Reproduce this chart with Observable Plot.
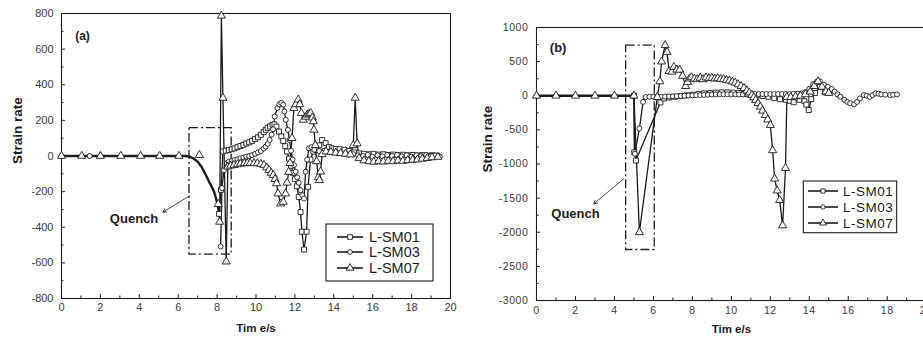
<!DOCTYPE html>
<html><head><meta charset="utf-8">
<script src="https://cdn.jsdelivr.net/npm/d3@7"></script>
<script src="https://cdn.jsdelivr.net/npm/@observablehq/plot@0.6"></script>
<style>
html,body{margin:0;padding:0;background:#fff;overflow:hidden;}
#wrap{position:relative;width:923px;height:338px;overflow:hidden;background:#fff;}
#wrap svg{position:absolute;top:0;}
</style></head><body><div id="wrap"></div>
<script>
// ---------------- Panel (a) data ----------------
const aXTicks = [0,2,4,6,8,10,12,14,16,18,20];
const aXMinor = [1,3,5,7,9,11,13,15,17,19];
const aYTicks = [-800,-600,-400,-200,0,200,400,600,800];
const aYMinor = [-700,-500,-300,-100,100,300,500,700];
const aCommon = [[0,0],[6.4,0],[6.6,-4],[6.8,-15],[7.0,-32],[7.2,-60],[7.33,-88],[7.46,-115],[7.59,-145],[7.72,-172],[7.84,-200],[7.95,-240],[8.01,-267],[8.1,-320]];
const a07Early = [[0,0],[1.04,0],[2,0],[3.05,0],[4.07,0],[5.05,0],[6.04,0],[7.09,5]];
const a03Early = [[0,0],[1.45,0]];
const aSM01 = [[8.1,-325],[8.2,-190],[8.3,25],[8.45,30],[8.6,34],[8.75,38],[8.9,43],[9.05,50],[9.2,56],[9.35,62],[9.5,70],[9.65,77],[9.8,85],[9.95,95],[10.1,105],[10.25,119],[10.4,135],[10.5,147],[10.6,158],[10.72,166],[10.85,175],[10.95,178],[11.05,165],[11.18,137],[11.3,110],[11.4,85],[11.5,55],[11.6,25],[11.7,-15],[11.8,-55],[11.9,-95],[12.0,-130],[12.1,-170],[12.2,-230],[12.29,-315],[12.36,-425],[12.47,-525],[12.6,-425],[12.68,-173],[12.8,-20],[12.95,25],[13.1,34],[13.25,60],[13.4,90],[13.58,72],[13.75,50],[13.9,43],[14.1,40],[14.3,38],[14.55,35],[14.8,28],[15.05,20],[15.3,15],[15.55,12],[15.8,10],[16.05,12],[16.3,8],[16.55,10],[16.8,6],[17.05,8],[17.3,5],[17.55,7],[17.8,4],[18.05,6],[18.3,3],[18.55,5],[18.8,2],[19.05,4],[19.3,2]];
const aSM03 = [[8.18,-508],[8.25,-180],[8.35,-80],[8.5,-40],[8.6,-32],[8.75,-28],[8.9,-23],[9.05,-18],[9.2,-13],[9.35,-9],[9.5,-4],[9.65,0],[9.8,5],[9.95,12],[10.1,20],[10.25,28],[10.4,42],[10.5,53],[10.6,68],[10.7,90],[10.8,120],[10.88,150],[10.96,222],[11.1,269],[11.2,290],[11.3,298],[11.4,288],[11.46,250],[11.53,203],[11.64,147],[11.72,90],[11.8,30],[11.88,-20],[11.95,-51],[12.04,-88],[12.12,-120],[12.2,-150],[12.29,-192],[12.38,-220],[12.47,-239],[12.55,-88],[12.63,-20],[12.72,43],[12.85,50],[13.0,35],[13.25,28],[13.5,30],[13.75,24],[14.0,20],[14.25,16],[14.5,12],[14.75,8],[15.0,10],[15.25,4],[15.5,0],[15.75,6],[16.0,-4],[16.25,4],[16.5,-2],[16.75,6],[17.0,0],[17.25,6],[17.5,-2],[17.75,4],[18.0,-4],[18.25,4],[18.5,0],[18.75,6],[19.0,0],[19.2,3],[19.45,-4]];
const aSM07 = [[8.06,-270],[8.13,-370],[8.22,787],[8.3,326],[8.47,-593],[8.55,-60],[8.7,-55],[8.87,-51],[9.05,-47],[9.2,-44],[9.4,-41],[9.55,-41],[9.7,-40],[9.9,-41],[10.07,-41],[10.25,-45],[10.41,-51],[10.55,-65],[10.67,-79],[10.78,-95],[10.89,-107],[10.98,-130],[11.06,-154],[11.13,-211],[11.27,-267],[11.4,-258],[11.52,-211],[11.6,-150],[11.68,-90],[11.75,-40],[11.85,100],[11.95,269],[12.05,290],[12.17,316],[12.25,290],[12.33,241],[12.43,203],[12.55,220],[12.64,232],[12.73,236],[12.81,241],[12.9,215],[12.95,194],[12.98,147],[13.05,60],[13.12,-30],[13.2,-120],[13.26,-136],[13.32,-88],[13.4,10],[13.6,25],[13.85,22],[14.1,18],[14.35,15],[14.6,12],[14.85,8],[15.0,60],[15.1,326],[15.2,70],[15.3,-13],[15.55,-25],[15.8,-30],[16.05,-33],[16.3,-30],[16.55,-32],[16.8,-28],[17.05,-30],[17.3,-26],[17.55,-28],[17.8,-24],[18.05,-22],[18.3,-20],[18.55,-16],[18.8,-12],[19.05,-8],[19.35,-5]];
const aBox = [{x1:6.58, x2:8.75, y1:-554, y2:156}];
const aArrow = [{x1:6.58, y1:-224, x2:5.22, y2:-315}];
const aNotes = [{t:3.73, v:-352, text:"Quench", size:13}, {t:1.08, v:674, text:"(a)", size:12}];

// ---------------- Panel (b) data ----------------
const bXTicks = [0,2,4,6,8,10,12,14,16,18,20];
const bXMinor = [1,3,5,7,9,11,13,15,17,19];
const bYTicks = [-3000,-2500,-2000,-1500,-1000,-500,0,500,1000];
const bYMinor = [-2750,-2250,-1750,-1250,-750,-250,250,750];
const bCommon = [[0,0],[5.0,0]];
const b07Early = [[0,0],[1,0],[2,0],[3,0],[4,0]];
const b03Early = [[0,0]];
const bSM01 = [[5.0,0],[5.02,-830],[5.1,-950],[6.36,-98],[6.55,-40],[6.8,-25],[7.1,-15],[7.4,-5],[7.7,5],[8.0,15],[8.3,25],[8.6,35],[8.9,40],[9.2,45],[9.5,50],[9.8,50],[10.1,45],[10.4,40],[10.7,30],[11.0,15],[11.3,5],[11.6,-5],[11.9,-15],[12.2,-35],[12.5,-50],[12.8,-60],[13.0,-75],[13.2,-95],[13.5,-60],[13.75,-80],[13.85,-130],[13.97,-210],[14.1,-50],[14.3,40],[14.55,130],[14.8,50],[15.0,45]];
const bSM03 = [[5.0,0],[5.05,-850],[5.28,-480],[5.47,-90],[5.6,-20],[5.8,-15],[6.0,-12],[6.2,-10],[6.4,-15],[6.6,-12],[6.8,-10],[7.0,-8],[7.2,-5],[7.4,-3],[7.6,0],[7.8,3],[8.0,5],[8.2,8],[8.4,10],[8.6,12],[8.8,15],[9.0,18],[9.2,20],[9.4,22],[9.6,22],[9.8,22],[10.0,20],[10.2,20],[10.4,18],[10.6,18],[10.8,20],[11.0,22],[11.2,25],[11.4,25],[11.6,25],[11.8,25],[12.0,25],[12.2,25],[12.4,25],[12.6,25],[12.8,25],[13.0,25],[13.2,28],[13.4,30],[13.6,35],[13.8,55],[14.0,100],[14.2,170],[14.4,210],[14.55,210],[14.75,160],[14.95,130],[15.15,100],[15.3,60],[15.45,20],[15.6,-15],[15.8,-60],[15.95,-90],[16.1,-110],[16.3,-125],[16.45,-90],[16.6,-40],[16.8,10],[16.95,0],[17.1,-15],[17.25,10],[17.4,35],[17.55,30],[17.7,20],[17.9,15],[18.15,10],[18.3,15],[18.5,20]];
const bSM07 = [[5.0,0],[5.28,-2000],[6.2,-20],[6.33,210],[6.42,500],[6.6,740],[6.7,640],[6.8,360],[6.95,350],[7.05,420],[7.2,380],[7.35,380],[7.5,290],[7.65,140],[7.75,200],[7.85,250],[7.95,270],[8.1,250],[8.25,240],[8.4,260],[8.55,240],[8.7,265],[8.85,255],[9.0,260],[9.15,250],[9.3,255],[9.45,245],[9.6,240],[9.75,230],[9.9,220],[10.05,205],[10.2,190],[10.35,165],[10.5,140],[10.65,110],[10.8,75],[10.92,45],[11.05,10],[11.15,-25],[11.25,-64],[11.37,-110],[11.49,-162],[11.6,-220],[11.74,-284],[11.87,-350],[12.0,-430],[12.12,-800],[12.22,-1215],[12.35,-1390],[12.48,-1530],[12.63,-1900],[12.78,-1060],[12.85,-20],[13.05,-20],[13.3,-10],[13.55,0],[13.8,20],[14.05,60],[14.25,140],[14.45,210],[14.65,130],[14.85,60],[15.0,40]];
const bBox = [{x1:4.6, x2:6.07, y1:-2260, y2:735}];
const bArrow = [{x1:4.48, y1:-1215, x2:2.94, y2:-1583}];
const bNotes = [{t:2.0, v:-1730, text:"Quench", size:13}, {t:1.11, v:705, text:"(b)", size:13}];

const seriesNames = ["L-SM01","L-SM03","L-SM07"];
const seriesSymbols = ["square","circle","triangle"];
const seriesR = [2.8, 2.5, 3.0];

// ---------------- drawing ----------------
const INK = "#1c1c1c";
const TICKINK = "#3a3a3a";
const FONT = "'Liberation Sans', Arial, sans-serif";
const pts = a => a.map(([t, v]) => ({t, v}));

function panel(c) {
  const innerW = c.width - c.ml - c.mr, innerH = c.height - c.mt - c.mb;
  const series = [c.s01, c.s03, c.s07];
  const marks = [
    Plot.frame({stroke: INK, strokeWidth: 1.1}),
    Plot.tickX(c.xTicks, {x: d => d, insetTop: innerH - 4, stroke: INK}),
    Plot.tickX(c.xMinor, {x: d => d, insetTop: innerH - 2.5, stroke: INK}),
    Plot.tickY(c.yTicks, {y: d => d, insetRight: innerW - 4, stroke: INK}),
    Plot.tickY(c.yMinor, {y: d => d, insetRight: innerW - 2.5, stroke: INK}),
    Plot.axisX(c.xTicks, {tickSize: 0, tickPadding: c.xPad, tickFormat: d => String(d), label: null, fill: TICKINK}),
    Plot.axisY(c.yTicks, {tickSize: 0, tickPadding: 8, tickFormat: d => String(d), label: null, fill: TICKINK}),
    Plot.line(pts(c.common), {x: "t", y: "v", stroke: INK, strokeWidth: 2.4}),
    Plot.rect(c.box, {x1: "x1", x2: "x2", y1: "y1", y2: "y2", fill: "none", stroke: INK, strokeWidth: 1.3, strokeDasharray: "9,3,2,3"}),
    Plot.arrow(c.arrow, {x1: "x1", y1: "y1", x2: "x2", y2: "y2", stroke: INK, strokeWidth: 0.8, headLength: 7}),
  ];
  series.forEach(s => marks.push(Plot.line(pts(s), {x: "t", y: "v", stroke: INK, strokeWidth: 1.3})));
  marks.push(Plot.dot(pts(c.early03), {x: "t", y: "v", symbol: "circle", r: seriesR[1], fill: "white", stroke: INK, strokeWidth: 0.9}));
  marks.push(Plot.dot(pts(c.early07), {x: "t", y: "v", symbol: "triangle", r: seriesR[2], fill: "white", stroke: INK, strokeWidth: 0.9}));
  series.forEach((s, i) => marks.push(Plot.dot(pts(s), {x: "t", y: "v", symbol: seriesSymbols[i], r: seriesR[i], fill: "white", stroke: INK, strokeWidth: 0.9})));
  c.notes.forEach(n => marks.push(Plot.text([n], {x: "t", y: "v", text: "text", fontSize: n.size, fontWeight: "bold", fill: INK})));
  marks.push(Plot.text(["Strain rate"], {frameAnchor: "left", dx: -c.yLabOff, dy: c.yLabDy, rotate: -90, fontSize: 13.5, fontWeight: "bold", fill: INK}));
  marks.push(Plot.text(["Tim e/s"], {frameAnchor: "bottom", dy: c.xLabDy, fontSize: 11.5, fontWeight: "bold", fill: INK}));

  const svg = Plot.plot({
    width: c.width, height: c.height,
    marginLeft: c.ml, marginRight: c.mr, marginTop: c.mt, marginBottom: c.mb,
    x: {domain: [0, 20]}, y: {domain: c.yDomain},
    style: {fontFamily: FONT, fontSize: c.tickFont + "px", background: "white", color: INK},
    marks
  });
  svg.style.left = c.left + "px";
  if (c.tickSpacing) d3.select(svg).selectAll("[aria-label$='tick label'] text").style("letter-spacing", c.tickSpacing);

  // legend
  const L = c.legend;
  const g = d3.select(svg).append("g").attr("font-family", FONT).attr("fill", INK).attr("text-anchor", "start");
  g.append("rect").attr("x", L.x).attr("y", L.y).attr("width", L.w).attr("height", L.h).attr("fill", "white").attr("stroke", INK).attr("stroke-width", 1.1);
  const symMap = {square: d3.symbolSquare, circle: d3.symbolCircle, triangle: d3.symbolTriangle};
  seriesNames.forEach((name, i) => {
    const yy = L.rows[i];
    g.append("line").attr("x1", L.lx1).attr("x2", L.lx2).attr("y1", yy).attr("y2", yy).attr("stroke", INK).attr("stroke-width", 1.6);
    const r = seriesR[i] * L.k;
    g.append("path").attr("d", d3.symbol(symMap[seriesSymbols[i]], Math.PI * r * r)()).attr("transform", `translate(${(L.lx1 + L.lx2) / 2},${yy})`).attr("fill", "white").attr("stroke", INK).attr("stroke-width", 0.9);
    g.append("text").attr("x", L.tx).attr("y", yy).attr("dy", "0.36em").attr("text-anchor", "start").attr("font-size", L.font).attr("letter-spacing", L.ls).text(name);
  });
  document.getElementById("wrap").appendChild(svg);
}

panel({
  left: 0, width: 460, height: 338, ml: 61, mr: 10, mt: 13, mb: 40, yDomain: [-800, 800],
  xTicks: aXTicks, xMinor: aXMinor, yTicks: aYTicks, yMinor: aYMinor, xPad: 5, tickFont: 11,
  common: aCommon, early07: a07Early, early03: a03Early, s01: aSM01, s03: aSM03, s07: aSM07,
  box: aBox, arrow: aArrow, notes: aNotes, yLabOff: 44, yLabDy: 8, xLabDy: 33,
  legend: {x: 326, y: 224, w: 107, h: 57, rows: [237, 252, 268], lx1: 337, lx2: 363, tx: 369, font: "14.5px", ls: "0px", k: 0.95}
});
panel({
  left: 460, width: 480, height: 338, ml: 76, mr: 14.3, mt: 27, mb: 38, yDomain: [-3000, 1000],
  xTicks: bXTicks, xMinor: bXMinor, yTicks: bYTicks, yMinor: bYMinor, xPad: 6, tickFont: 10.5, tickSpacing: "0.6px",
  common: bCommon, early07: b07Early, early03: b03Early, s01: bSM01, s03: bSM03, s07: bSM07,
  box: bBox, arrow: bArrow, notes: bNotes, yLabOff: 49, yLabDy: 8.5, xLabDy: 32,
  legend: {x: 343.3, y: 181, w: 93.4, h: 51.7, rows: [191, 207, 223], lx1: 348, lx2: 378, tx: 383, font: "13.5px", ls: "0.5px", k: 0.85}
});
</script></body></html>
